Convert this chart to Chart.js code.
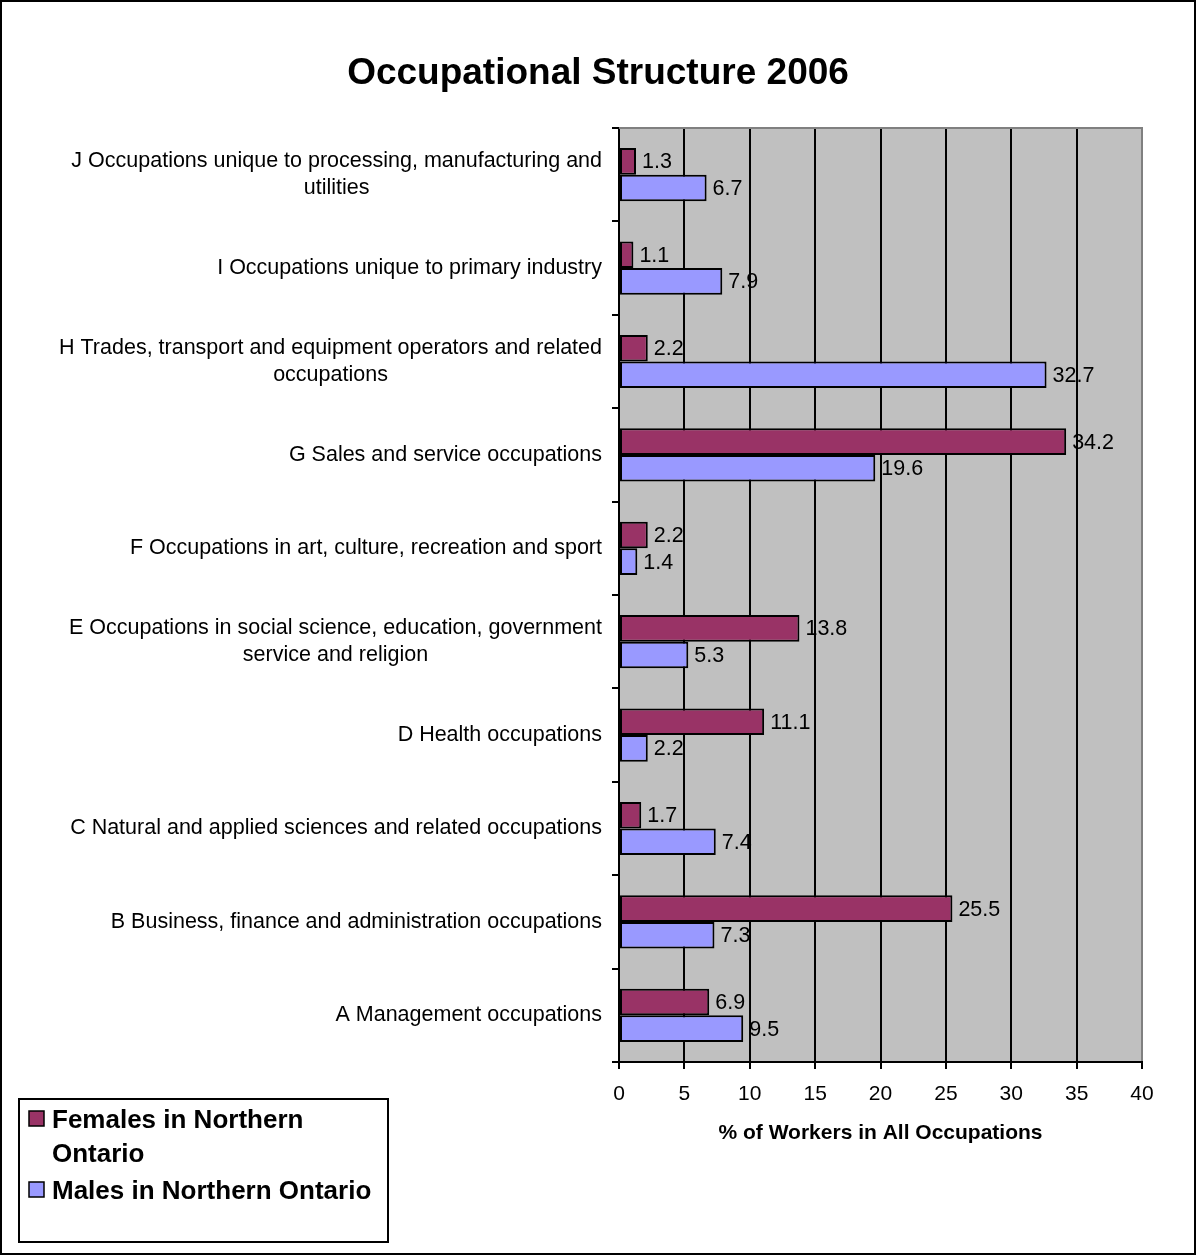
<!DOCTYPE html>
<html>
<head>
<meta charset="utf-8">
<title>Occupational Structure 2006</title>
<script src="https://cdn.jsdelivr.net/npm/chart.js@4.4.1/dist/chart.umd.min.js"></script>
<style>
  html, body { margin: 0; padding: 0; background: #fff; }
  #wrap { width: 1196px; height: 1255px; }
</style>
</head>
<body>
<div id="wrap"><canvas id="occChart" width="1196" height="1255"></canvas></div>
<script>
const FONT = "'Liberation Sans', Arial, Helvetica, sans-serif";

// categories top to bottom, one entry per line of the label
const categories = [
  ['J Occupations unique to processing, manufacturing and', 'utilities'],
  ['I Occupations unique to primary industry'],
  ['H Trades, transport and equipment operators and related', 'occupations'],
  ['G Sales and service occupations'],
  ['F Occupations in art, culture, recreation and sport'],
  ['E Occupations in social science, education, government', 'service and religion'],
  ['D Health occupations'],
  ['C Natural and applied sciences and related occupations'],
  ['B Business, finance and administration occupations'],
  ['A Management occupations']
];
const seriesNames = ['Females in Northern Ontario', 'Males in Northern Ontario'];
const females = [1.3, 1.1, 2.2, 34.2, 2.2, 13.8, 11.1, 1.7, 25.5, 6.9];
const males   = [6.7, 7.9, 32.7, 19.6, 1.4, 5.3, 2.2, 7.4, 7.3, 9.5];
const xMin = 0, xMax = 40, xStep = 5;
const chartTitle = 'Occupational Structure 2006';
const xTitle = '% of Workers in All Occupations';

const colFemale = '#993366';
const colMale = '#9999ff';

// ----- helpers -----

function wrapText(ctx, text, maxW){
  const words = text.split(' ');
  const lines = [];
  let cur = '';
  words.forEach(w=>{
    const t = cur ? cur + ' ' + w : w;
    if(cur && ctx.measureText(t).width > maxW){ lines.push(cur); cur = w; }
    else cur = t;
  });
  if(cur) lines.push(cur);
  return lines;
}

// ----- plugins: plot background, labels, title, legend -----

const decor = {
  id:'decor',
  beforeDraw(chart){
    const {ctx, chartArea:a} = chart;
    ctx.save();
    ctx.fillStyle = '#fff';
    ctx.fillRect(0, 0, chart.width, chart.height);
    ctx.fillStyle = '#c0c0c0';
    ctx.fillRect(a.left, a.top, a.right - a.left, a.bottom - a.top);
    ctx.restore();
  },
  afterDatasetsDraw(chart){
    const ctx = chart.ctx;
    ctx.save();
    ctx.font = `21.5px ${FONT}`;
    ctx.fillStyle = '#000';
    ctx.textAlign = 'left';
    ctx.textBaseline = 'middle';
    chart.data.datasets.forEach((ds, di)=>{
      chart.getDatasetMeta(di).data.forEach((bar, i)=>{
        ctx.fillText(ds.data[i].toFixed(1), bar.x + 6, bar.y + 1);
      });
    });
    ctx.restore();
  },
  afterDraw(chart){
    const {ctx, chartArea:a} = chart;
    const yScale = chart.scales.y;
    ctx.save();

    // top edge of plot area
    ctx.strokeStyle = '#808080';
    ctx.lineWidth = 2;
    ctx.beginPath();
    ctx.moveTo(a.left, a.top);
    ctx.lineTo(a.right + 1, a.top);
    ctx.stroke();

    // category labels: block right aligned, lines centred
    ctx.font = `21.5px ${FONT}`;
    ctx.fillStyle = '#000';
    ctx.textAlign = 'center';
    ctx.textBaseline = 'middle';
    chart.data.labels.forEach((lines, i)=>{
      const yc = yScale.getPixelForValue(i);
      const w = Math.max(...lines.map(l=>ctx.measureText(l).width));
      const cx = a.left - 17 - w / 2;
      lines.forEach((l, k)=>{
        ctx.fillText(l, cx, yc + (k - (lines.length - 1) / 2) * 27);
      });
    });

    // title
    ctx.font = `bold 37px ${FONT}`;
    ctx.textBaseline = 'alphabetic';
    ctx.fillText(chartTitle, 598, 84);

    // legend box
    const lx = 19, ly = 1099, lw = 369, lh = 143;
    ctx.strokeStyle = '#000';
    ctx.lineWidth = 2;
    ctx.strokeRect(lx, ly, lw, lh);
    ctx.font = `bold 26px ${FONT}`;
    ctx.textAlign = 'left';
    let base = 1128;
    chart.data.datasets.forEach(ds=>{
      ctx.fillStyle = ds.backgroundColor;
      ctx.fillRect(29, base - 17, 15, 15);
      ctx.lineWidth = 1.5;
      ctx.strokeRect(29, base - 17, 15, 15);
      ctx.fillStyle = '#000';
      wrapText(ctx, ds.label, 330).forEach(l=>{
        ctx.fillText(l, 52, base);
        base += 34;
      });
      base += 3;
    });

    // outer frame
    ctx.lineWidth = 2;
    ctx.strokeRect(1, 1, chart.width - 2, chart.height - 2);
    ctx.restore();
  }
};

// ----- chart -----

const occChart = new Chart(document.getElementById('occChart'), {
  type:'bar',
  data:{
    labels: categories,
    datasets:[
      {label:seriesNames[0], data:females, backgroundColor:colFemale},
      {label:seriesNames[1], data:males, backgroundColor:colMale}
    ]
  },
  options:{
    indexAxis:'y',
    responsive:false,
    animation:false,
    devicePixelRatio:1,
    datasets:{
      bar:{
        borderColor:'#000',
        borderWidth:2,
        borderSkipped:false,
        categoryPercentage:0.57,
        barPercentage:1.0
      }
    },
    layout:{padding:{top:128, right:54, left:0, bottom:0}},
    plugins:{
      legend:{display:false},
      title:{display:false},
      tooltip:{enabled:false}
    },
    scales:{
      x:{
        min:xMin, max:xMax,
        ticks:{stepSize:xStep, color:'#000', font:{family:FONT, size:21}, padding:13},
        grid:{
          color: c => (c.tick && c.tick.value === xMax) ? '#808080' : '#000',
          lineWidth:2,
          tickColor:'#000',
          tickLength:7
        },
        border:{color:'#000', width:2},
        title:{
          display:true, text:xTitle, color:'#000',
          font:{family:FONT, size:21, weight:'bold'},
          padding:{top:0, bottom:109}
        },
        afterFit(s){ s.height = 193; }
      },
      y:{
        ticks:{display:false},
        grid:{offset:true, drawOnChartArea:false, color:'#000', lineWidth:2, tickLength:7},
        border:{color:'#000', width:2},
        afterFit(s){ s.width = 619; }
      }
    }
  },
  plugins:[decor]
});
</script>
</body>
</html>
